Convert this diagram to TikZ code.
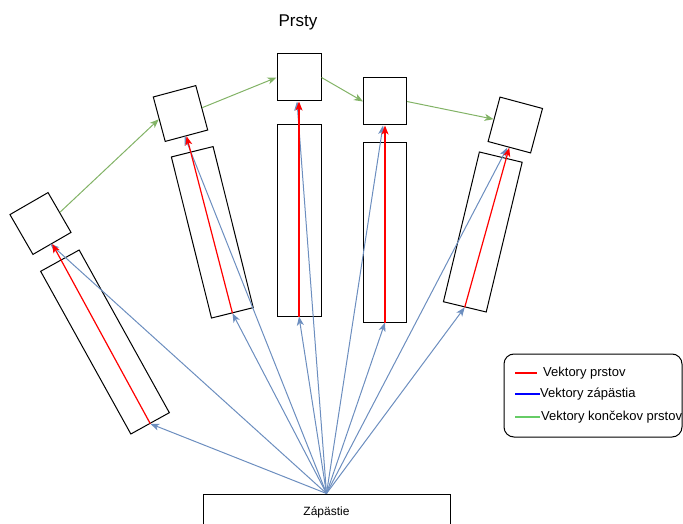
\documentclass[tikz,border=0pt]{standalone}
\usepackage{fontspec}
\setmainfont{Liberation Sans}
\usetikzlibrary{arrows.meta}
\definecolor{vblue}{HTML}{6C8EBF}
\definecolor{vgreen}{HTML}{82B366}
\definecolor{lgreen}{HTML}{66CC66}
\definecolor{lred}{HTML}{FF0000}
\definecolor{lblue}{HTML}{0000FF}
\begin{document}
\begin{tikzpicture}[x=1pt,y=-1pt,
  box/.style={draw=black,line width=1pt,rectangle,inner sep=0pt},
  sq/.style={box,minimum width=44pt,minimum height=46pt},
  tip/.style={-{Stealth[length=9pt,width=7pt,inset=2.5pt]}},
  redv/.style={tip,draw=lred,line width=1.2pt},
  bluev/.style={tip,draw=vblue,line width=1pt},
  greenv/.style={tip,draw=vgreen,line width=1pt},
  legline/.style={line width=1.2pt},
  lbl/.style={font=\fontsize{13}{15}\selectfont,inner sep=0pt,anchor=west}]
\useasboundingbox (0,0) rectangle (683,524);
\clip (0,0) rectangle (683,524);
% title
\node[font=\fontsize{17}{20}\selectfont,inner sep=0pt] (title) at (298,22) {Prsty};
% fingers
\node[sq,rotate=30] (s1) at (40.5,223.5) {};
\node[box,rotate=29,minimum width=44pt,minimum height=186pt] (r1) at (105,342) {};
\node[sq,rotate=15] (s2) at (180.5,113.5) {};
\node[box,rotate=14,minimum width=43pt,minimum height=166pt] (r2) at (212.3,232.3) {};
\node[sq,minimum height=47pt] (s3) at (299,77.5) {};
\node[box,minimum width=44pt,minimum height=191pt] (r3) at (299,220.5) {};
\node[sq,minimum width=43pt,minimum height=47pt] (s4) at (385,101.5) {};
\node[box,minimum width=43pt,minimum height=179pt] (r4) at (385,232.5) {};
\node[sq,rotate=-15] (s5) at (515.3,125) {};
\node[box,rotate=-13.5,minimum width=44pt,minimum height=154pt] (r5) at (482.8,232) {};
% wrist
\node[box,minimum width=247pt,minimum height=36pt,font=\fontsize{12}{14}\selectfont] (w) at (326.5,512) {Zápästie};
% blue wrist vectors
\foreach \i in {1,...,5} {
  \draw[bluev] (w.north) -- (r\i.south);
  \draw[bluev] (w.north) -- ([xshift=-2pt]s\i.south);
}
% red finger vectors
\foreach \i in {1,...,5} \draw[redv] (r\i.south) -- (s\i.south);
% green fingertip vectors
\draw[greenv] (s1.east) -- (s2.west);
\draw[greenv] (s2.east) -- (s3.west);
\draw[greenv] (s3.east) -- (s4.west);
\draw[greenv] (s4.east) -- (s5.west);
% legend
\node[draw=black,line width=1pt,rounded corners=10pt,minimum width=178pt,minimum height=83pt] (leg) at (593,395.5) {};
\coordinate (l1a) at (515,373); \coordinate (l1b) at (537,373);
\coordinate (l2a) at (515,394); \coordinate (l2b) at (540,394);
\coordinate (l3a) at (515,417); \coordinate (l3b) at (540,417);
\draw[lred,legline] (l1a) -- (l1b);
\draw[lblue,legline] (l2a) -- (l2b);
\draw[lgreen,legline] (l3a) -- (l3b);
\node[lbl] (t1) at (543,373) {Vektory prstov};
\node[lbl] (t2) at (540,394) {Vektory zápästia};
\node[lbl] (t3) at (541,417) {Vektory končekov prstov};
\end{tikzpicture}
\end{document}
